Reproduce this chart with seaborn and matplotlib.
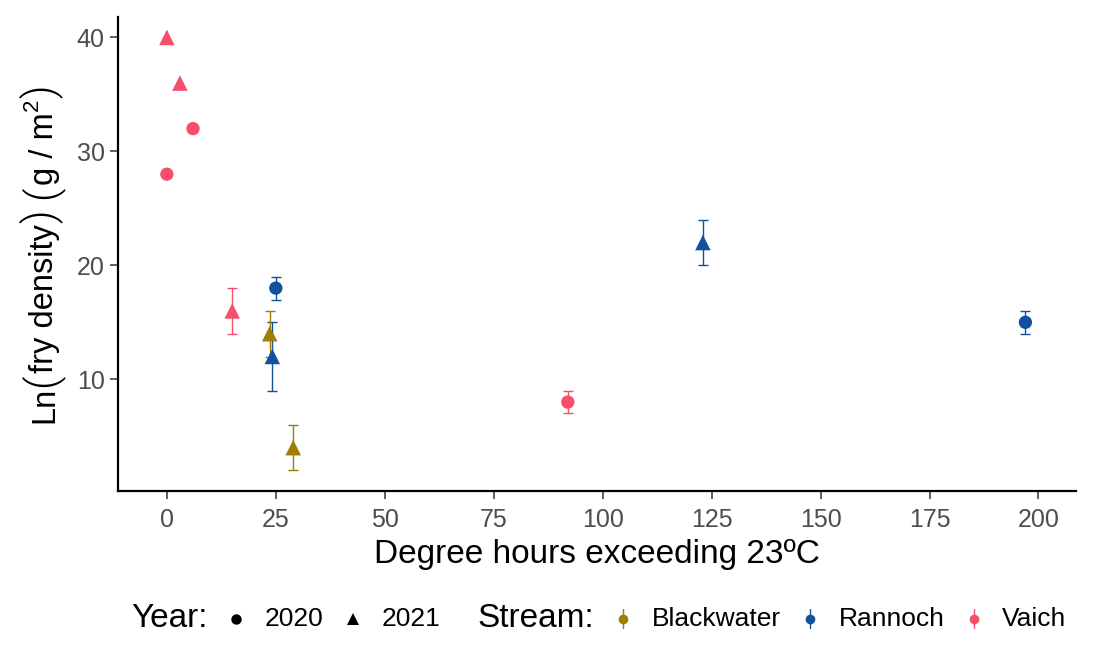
import matplotlib
matplotlib.use("Agg")
import matplotlib.pyplot as plt
from matplotlib.lines import Line2D
from matplotlib.offsetbox import TextArea, DrawingArea, HPacker, AnchoredOffsetbox
import seaborn as sns
import pandas as pd

# ---- data ----
stream = ["Vaich", "Vaich", "Vaich", "Vaich", "Vaich", "Vaich",
          "Rannoch", "Rannoch", "Rannoch", "Rannoch",
          "Blackwater", "Blackwater"]
year = ["2021", "2021", "2020", "2020", "2021", "2020",
        "2020", "2021", "2021", "2020",
        "2021", "2021"]
degree_hours = [0, 3, 6, 0, 15, 92,
                25, 24.2, 123, 197,
                23.6, 29]
ln_density = [40, 36, 32, 28, 16, 8,
              18, 12, 22, 15,
              14, 4]
err_low = [None, None, None, None, 14, 7,
           17, 9, 20, 14,
           12, 2]
err_high = [None, None, None, None, 18, 9,
            19, 15, 24, 16,
            16, 6]

stream_order = ["Blackwater", "Rannoch", "Vaich"]
stream_colors = ["#9C7E00", "#13519F", "#F74F6B"]
year_order = ["2020", "2021"]
year_markers = ["o", "^"]
x_ticks = [0, 25, 50, 75, 100, 125, 150, 175, 200]
y_ticks = [10, 20, 30, 40]

df = pd.DataFrame({"stream": stream, "year": year, "x": degree_hours,
                   "y": ln_density, "lo": err_low, "hi": err_high})
palette = dict(zip(stream_order, stream_colors))
markers = dict(zip(year_order, year_markers))
marker_sizes = {"2020": 92, "2021": 125}

sns.set_theme(style="ticks")
plt.rcParams["font.family"] = ["Liberation Sans", "DejaVu Sans"]

W, H = 1093, 652
fig = plt.figure(figsize=(W / 100, H / 100), dpi=100)
ax = fig.add_axes([0.108, 0.247, 0.876, 0.727])

# error bars
eb = df.dropna(subset=["lo"])
for _, r in eb.iterrows():
    ax.errorbar(r["x"], r["y"], yerr=[[r["y"] - r["lo"]], [r["hi"] - r["y"]]],
                fmt="none", ecolor=palette[r["stream"]], elinewidth=1.0,
                capsize=3.8, capthick=1.0, zorder=2)

for yr in year_order:
    sub = df[df["year"] == yr]
    sns.scatterplot(data=sub, x="x", y="y", hue="stream", hue_order=stream_order,
                    palette=palette, marker=markers[yr], s=marker_sizes[yr],
                    linewidth=0, legend=False, ax=ax, zorder=3)

ax.set_xlim(-11.2, 208.5)
ax.set_ylim(0.2, 41.8)
ax.set_xticks(x_ticks)
ax.set_yticks(y_ticks)
ax.tick_params(axis="both", labelsize=18, labelcolor="#4D4D4D", color="#333333",
               length=5.5, width=1.1)
ax.tick_params(axis="y", pad=4)
ax.tick_params(axis="x", pad=7)
for s in ["left", "bottom"]:
    ax.spines[s].set_linewidth(1.6)
    ax.spines[s].set_color("black")
sns.despine(ax=ax)

ax.set_xlabel("Degree hours exceeding 23ºC", fontsize=24, color="black", labelpad=5)
ax.set_ylabel("")

# ---- y-axis title with large (plotmath-like) parentheses ----
renderer = fig.canvas.get_renderer()
fs, pfs, sfs = 23.5, 30, 16
ylab_pieces = [("Ln", fs, 0, 0, False), ("(", pfs, 0, 1, True),
               ("fry density", fs, 0, 1, False), (")", pfs, 0, 10, True),
               ("(", pfs, 0, 1, True), ("g / m", fs, 0, 1, False),
               ("2", sfs, 15, 1, False), (")", pfs, 0, 0, True)]
base_x = 53.0
ytexts, lengths = [], []
for s, size, rise, gap, paren in ylab_pieces:
    kw = dict(family=["Roboto", "Liberation Sans"], fontweight=300) if paren else {}
    t = fig.text(0, 0, s, fontsize=size, rotation=90, rotation_mode="anchor",
                 ha="left", va="baseline", color="black", **kw)
    ytexts.append(t)
    lengths.append(t.get_window_extent(renderer).height + gap)
total = sum(lengths)
center = (ax.bbox.y0 + ax.bbox.y1) / 2
cur = center - total / 2
for t, piece, ln in zip(ytexts, ylab_pieces, lengths):
    rise = piece[2]
    t.set_position(((base_x - rise) / W, cur / H))
    cur += ln

# ---- legend (ggplot-style, horizontal, titles inline) ----
def spacer(w):
    return DrawingArea(w, 1)

def marker_handle(mk, color, ms):
    da = DrawingArea(14, 14)
    da.add_artist(Line2D([7], [7], linestyle="none", marker=mk, color=color,
                         markersize=ms, markeredgewidth=0))
    return da

def range_handle(color):
    da = DrawingArea(14, 14)
    da.add_artist(Line2D([7, 7], [0, 14], color=color, linewidth=1.0))
    da.add_artist(Line2D([7], [7], linestyle="none", marker="o", color=color,
                         markersize=7, markeredgewidth=0))
    return da

title_fs = 24
label_fs = 19
pre, post, group = 14.0, 13.5, 27.0

children = [TextArea("Year:", textprops=dict(fontsize=title_fs, color="black"))]
for yr, mk, ms in zip(year_order, year_markers, [7.5, 8.5]):
    children += [spacer(pre), marker_handle(mk, "black", ms), spacer(post),
                 TextArea(yr, textprops=dict(fontsize=label_fs, color="black"))]
children += [spacer(group),
             TextArea("Stream:", textprops=dict(fontsize=title_fs, color="black"))]
for s, c in zip(stream_order, stream_colors):
    children += [spacer(pre), range_handle(c), spacer(post),
                 TextArea(s, textprops=dict(fontsize=label_fs, color="black"))]

pack = HPacker(children=children, align="center", pad=0, sep=0)
anch = AnchoredOffsetbox(loc="center", child=pack, pad=0, borderpad=0, frameon=False,
                         bbox_to_anchor=(0.5476, 0.051), bbox_transform=fig.transFigure)
fig.add_artist(anch)

fig.savefig("out.png", dpi=100)
